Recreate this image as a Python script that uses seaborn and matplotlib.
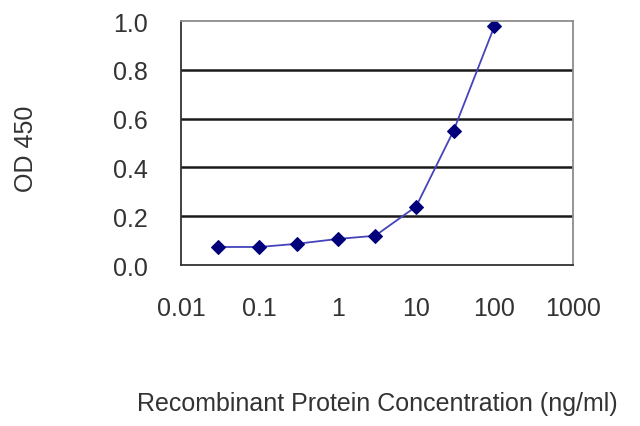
import pandas as pd
import seaborn as sns
import matplotlib.pyplot as plt

# concentration (ng/ml) and OD 450
conc = [0.03, 0.1, 0.3, 1, 3, 10, 30, 100]
od450 = [0.074, 0.074, 0.087, 0.107, 0.12, 0.24, 0.55, 0.98]
xticks = [0.01, 0.1, 1, 10, 100, 1000]
xticklabels = ['0.01', '0.1', '1', '10', '100', '1000']
yticks = [0.0, 0.2, 0.4, 0.6, 0.8, 1.0]

df = pd.DataFrame({'conc': conc, 'od': od450})

sns.set_style('white')
plt.rcParams['font.family'] = ['Liberation Sans', 'DejaVu Sans']

fig = plt.figure(figsize=(6.4, 4.27), dpi=100)
ax = fig.add_axes([0.283, 0.377, 0.612, 0.571])

sns.lineplot(data=df, x='conc', y='od', ax=ax, color='#4444bb', linewidth=1.3,
             marker='D', markersize=7.5, markerfacecolor='#00007a',
             markeredgecolor='#00007a')

ax.set_xscale('log')
ax.set_xlim(0.01, 1000)
ax.set_ylim(0, 1.0)
ax.set_xticks(xticks)
ax.set_xticklabels(xticklabels)
ax.minorticks_off()
ax.set_yticks(yticks)
ax.set_yticklabels([f'{v:.1f}' for v in yticks])

for v in yticks[1:-1]:
    ax.axhline(v, color='#1a1a1a', linewidth=1.8, zorder=0)

for s in ['left', 'bottom']:
    ax.spines[s].set_color('#333333')
    ax.spines[s].set_linewidth(1.3)
for s in ['top', 'right']:
    ax.spines[s].set_color('#8c8c8c')
    ax.spines[s].set_linewidth(1.3)

ax.tick_params(axis='x', direction='in', length=3, width=1, color='#333333',
               pad=22, labelsize=18, labelcolor='#333333')
ax.tick_params(axis='y', length=0, pad=24, labelsize=18, labelcolor='#333333')

ax.set_xlabel('Recombinant Protein Concentration (ng/ml)', fontsize=18, color='#333333')
ax.set_ylabel('OD 450', fontsize=18, color='#333333')
ax.xaxis.set_label_coords(0.5, -0.565)
ax.xaxis.label.set_va('center')
ax.yaxis.set_label_coords(-0.395, 0.48)
ax.yaxis.label.set_va('center')

fig.savefig('out.png', dpi=100)
